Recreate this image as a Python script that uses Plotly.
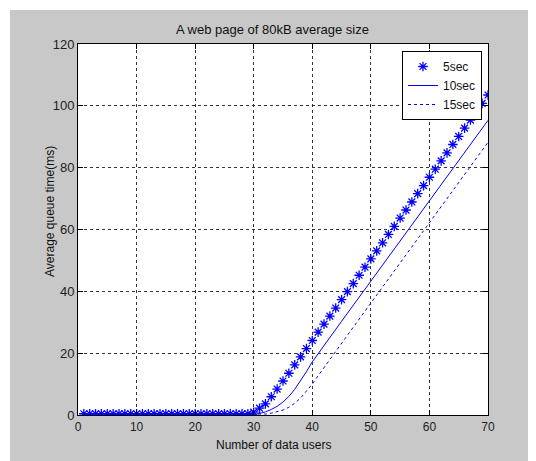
import plotly.graph_objects as go

users = list(range(1, 71))

five_sec = [0.4, 0.4, 0.4, 0.4, 0.4, 0.4, 0.4, 0.4, 0.4, 0.4,
            0.4, 0.4, 0.4, 0.4, 0.4, 0.4, 0.4, 0.4, 0.4, 0.4,
            0.4, 0.4, 0.4, 0.4, 0.4, 0.4, 0.4, 0.4, 0.4, 0.9,
            2.2, 3.6, 5.9, 8.4, 11.0, 13.5, 16.2, 18.8, 21.5, 24.1,
            26.8, 29.4, 32.0, 34.6, 37.3, 39.9, 42.5, 45.2, 47.8, 50.5,
            53.1, 55.7, 58.4, 61.0, 63.7, 66.3, 68.9, 71.6, 74.2, 76.9,
            79.5, 82.2, 84.8, 87.5, 90.1, 92.8, 95.4, 98.1, 100.8, 103.5]

ten_sec = [0.2, 0.2, 0.2, 0.2, 0.2, 0.2, 0.2, 0.2, 0.2, 0.2,
           0.2, 0.2, 0.2, 0.2, 0.2, 0.2, 0.2, 0.2, 0.2, 0.2,
           0.2, 0.2, 0.2, 0.2, 0.2, 0.2, 0.2, 0.2, 0.2, 0.2,
           0.5, 1.0, 1.8, 2.8, 4.2, 6.0, 8.3, 11.0, 14.0, 17.2,
           19.9, 22.5, 25.1, 27.7, 30.3, 32.9, 35.5, 38.1, 40.7, 43.3,
           45.9, 48.5, 51.1, 53.7, 56.3, 58.9, 61.5, 64.1, 66.7, 69.3,
           71.9, 74.5, 77.1, 79.7, 82.3, 84.9, 87.5, 90.1, 92.7, 95.3]

fifteen_sec = [0.1, 0.1, 0.1, 0.1, 0.1, 0.1, 0.1, 0.1, 0.1, 0.1,
               0.1, 0.1, 0.1, 0.1, 0.1, 0.1, 0.1, 0.1, 0.1, 0.1,
               0.1, 0.1, 0.1, 0.1, 0.1, 0.1, 0.1, 0.1, 0.1, 0.1,
               0.2, 0.3, 0.6, 1.0, 1.6, 2.5, 3.8, 5.5, 7.6, 10.0,
               12.7, 15.4, 18.0, 20.6, 23.2, 25.8, 28.4, 31.0, 33.6, 36.2,
               38.8, 41.4, 44.0, 46.6, 49.2, 51.8, 54.4, 57.0, 59.6, 62.2,
               64.8, 67.4, 70.0, 72.6, 75.2, 77.8, 80.4, 83.0, 85.6, 88.2]

series_names = ["5sec", "10sec", "15sec"]
x_ticks = [0, 10, 20, 30, 40, 50, 60, 70]
y_ticks = [0, 20, 40, 60, 80, 100, 120]

FONT = "Liberation Sans, Arial, sans-serif"
BLUE = "#0000ff"
GRAY = "#c8c8c8"

fig = go.Figure()
fig.add_trace(go.Scatter(
    x=users, y=five_sec, name=series_names[0], mode="markers",
    marker=dict(symbol="asterisk-open", size=8, color=BLUE,
                line=dict(color=BLUE, width=1.3)),
))
fig.add_trace(go.Scatter(
    x=users, y=ten_sec, name=series_names[1], mode="lines",
    line=dict(color=BLUE, width=1),
))
fig.add_trace(go.Scatter(
    x=users, y=fifteen_sec, name=series_names[2], mode="lines",
    line=dict(color=BLUE, width=1, dash="3px,3px"),
))

# The page body has an 8px margin, so the figure starts at page (8, 8).
OFF = 8
PAGE_W, PAGE_H = 536, 461
W, H = PAGE_W - OFF, PAGE_H - OFF
# Plot area in page pixels
PL, PR, PT, PB = 78, 488, 44, 415
L, R, T, B = PL - OFF, W - (PR - OFF), PT - OFF, H - (PB - OFF)
pw, ph = PR - PL, PB - PT

def px_to_paper_x(px):
    return (px - PL) / pw

def px_to_paper_y(py):
    return (PB - py) / ph

axis_common = dict(
    showline=True, linecolor="black", linewidth=1, mirror="allticks",
    ticks="inside", ticklen=5, tickcolor="black",
    showgrid=True, gridcolor="#333333", gridwidth=1, griddash="3px,3px",
    zeroline=False,
)

fig.update_xaxes(range=[0, 70], tickvals=x_ticks, ticklabelstandoff=1,
                 tickfont=dict(family=FONT, size=12, color="#222222"), **axis_common)
fig.update_yaxes(range=[0, 120], tickvals=y_ticks,
                 tickfont=dict(family=FONT, size=13, color="#222222"), **axis_common)

fig.update_layout(
    width=W, height=H,
    margin=dict(l=L, r=R, t=T, b=B, pad=0),
    paper_bgcolor=GRAY, plot_bgcolor="white",
    showlegend=True,
    legend=dict(
        x=px_to_paper_x(402), y=px_to_paper_y(51), xanchor="left", yanchor="top",
        bgcolor="white", bordercolor="black", borderwidth=1,
        font=dict(family=FONT, size=12, color="#111111"),
        tracegroupgap=0, itemwidth=30,
    ),
    shapes=[
        dict(type="rect", xref="paper", yref="paper",
             x0=px_to_paper_x(0), x1=px_to_paper_x(PAGE_W), y0=px_to_paper_y(0), y1=px_to_paper_y(10),
             fillcolor="white", line=dict(width=0), layer="above"),
        dict(type="rect", xref="paper", yref="paper",
             x0=px_to_paper_x(0), x1=px_to_paper_x(10), y0=px_to_paper_y(0), y1=px_to_paper_y(PAGE_H),
             fillcolor="white", line=dict(width=0), layer="above"),
    ],
    annotations=[
        dict(text="A web page of 80kB average size", xref="paper", yref="paper",
             x=px_to_paper_x(272), y=px_to_paper_y(29), xanchor="center", yanchor="middle",
             showarrow=False, font=dict(family=FONT, size=13, color="#111111")),
        dict(text="Number of data users", xref="paper", yref="paper",
             x=px_to_paper_x(273), y=px_to_paper_y(445), xanchor="center", yanchor="middle",
             showarrow=False, font=dict(family=FONT, size=12, color="#111111")),
        dict(text="Average queue time(ms)", xref="paper", yref="paper",
             x=px_to_paper_x(50), y=px_to_paper_y(212), xanchor="center", yanchor="middle",
             textangle=-90, showarrow=False, font=dict(family=FONT, size=12, color="#111111")),
    ],
)

fig.write_html("out.html")
